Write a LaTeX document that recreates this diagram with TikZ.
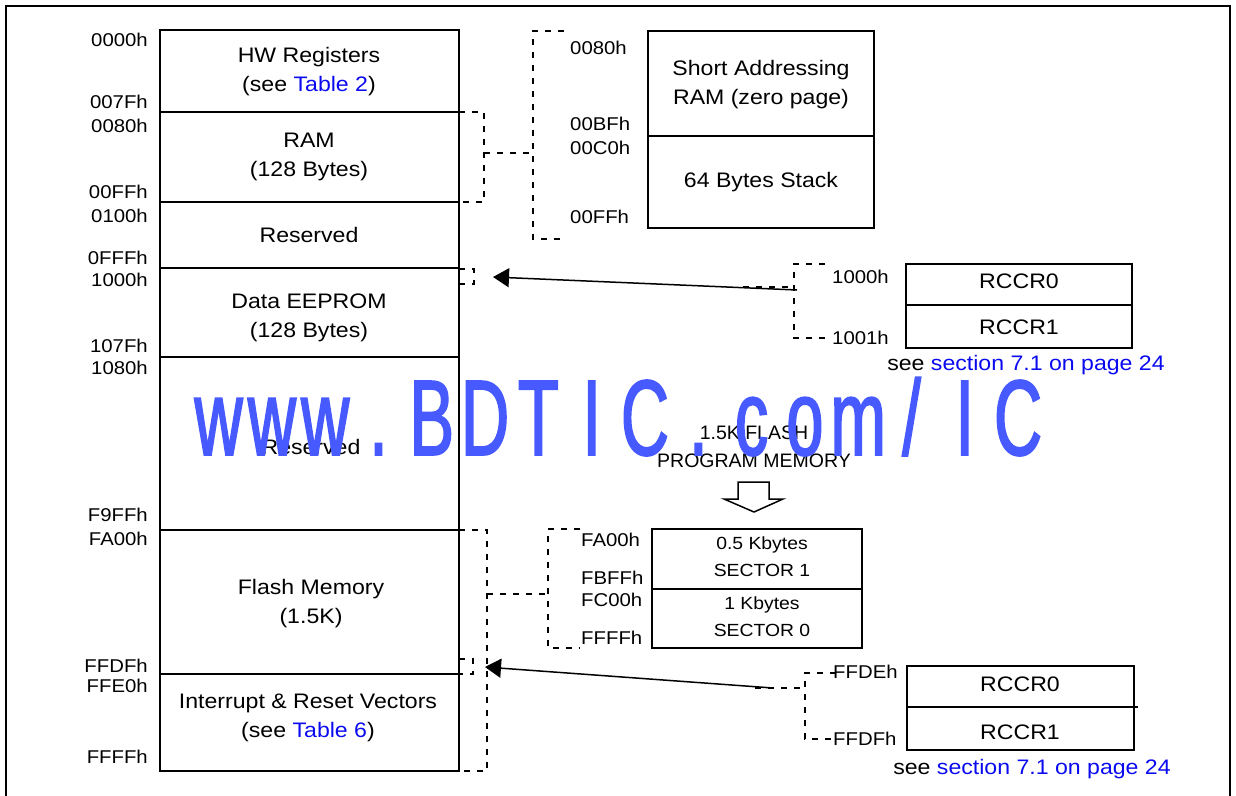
\documentclass[tikz,border=0pt]{standalone}
\usepackage{fontspec}
\setmainfont{Liberation Sans}[FakeStretch=1.1]
\newfontfamily\plainsans{Liberation Sans}
\newfontfamily\wmfont{Liberation Sans}[FakeStretch=0.62, FakeBold=1.5]
\usetikzlibrary{arrows.meta}
\definecolor{linkblue}{RGB}{10,10,240}
\definecolor{wmblue}{RGB}{70,90,255}
\begin{document}
\begin{tikzpicture}[x=1pt,y=-1pt,
  blk/.style={draw, line width=2pt, anchor=north west, inner sep=0pt, outer sep=0pt, minimum width=299pt},
  boxx/.style={draw, line width=2pt, anchor=north west, inner sep=0pt, outer sep=0pt},
  txt/.style={font=\fontsize{21}{29}\selectfont, align=center, inner sep=0pt},
  addr/.style={font=\fontsize{18.5}{22}\selectfont, inner sep=0pt},
  sect/.style={font=\fontsize{17.6}{27}\selectfont, align=center, inner sep=0pt},
  flashtxt/.style={font=\plainsans\fontsize{19.5}{28}\selectfont, align=center, inner sep=0pt},
  dsh/.style={line width=1.8pt, dash pattern=on 6pt off 7pt},
  arr/.style={line width=1.5pt, -{Triangle[length=16pt,width=19pt]}},
  wmchar/.style={anchor=base, inner sep=0pt, text=wmblue, font=\wmfont\fontsize{107.5}{107.5}\selectfont},
]
\useasboundingbox (0,0) rectangle (1236,795);
\clip (0,0) rectangle (1236,795);
\draw[line width=2.5pt] (6,800) -- (6,6) -- (1230,6) -- (1230,800);

% ---------- main memory column ----------
\node[blk, minimum height=82pt]  (hw)    at (160,30)  {};
\node[blk, minimum height=90pt]  (ram)   at (160,112) {};
\node[blk, minimum height=66pt]  (res1)  at (160,202) {};
\node[blk, minimum height=89pt]  (eep)   at (160,268) {};
\node[blk, minimum height=173pt] (res2)  at (160,357) {};
\node[blk, minimum height=144pt] (flash) at (160,530) {};
\node[blk, minimum height=97pt]  (vec)   at (160,674) {};

\node[txt] (thw)  at (309,71.5) {HW Registers\\(see \textcolor{linkblue}{Table 2})};
\node[txt] (tram) at (309,157) {RAM\\(128 Bytes)};
\node[txt] (tr1)  at (309,235) {Reserved};
\node[txt] (teep) at (309,318) {Data EEPROM\\(128 Bytes)};
\node[txt] (tr2)  at (311,447) {Reserved};
\node[txt] (tfl)  at (311,604) {Flash Memory\\(1.5K)};
\node[txt] (tvec) at (308,717.5) {Interrupt \& Reset Vectors\\(see \textcolor{linkblue}{Table 6})};

% address labels (left)
\foreach \n/\y/\t in {a1/40/0000h, a2/102/007Fh, a3/126/0080h, a4/192/00FFh, a5/216/0100h,
  a6/258/0FFFh, a7/280/1000h, a8/346/107Fh, a9/368/1080h, a10/515/F9FFh, a11/539/FA00h,
  a12/666/FFDFh, a13/686/FFE0h, a14/757/FFFFh}
  \node[addr, anchor=east] (\n) at (148,\y) {\t};

% ---------- zero page / stack ----------
\node[boxx, minimum width=226pt, minimum height=105pt] (sa) at (648,31) {};
\node[boxx, minimum width=226pt, minimum height=92pt]  (st) at (648,136) {};
\node[txt] (tsa) at (761,84.5) {Short Addressing\\RAM (zero page)};
\node[txt] (tst) at (761,182) {64 Bytes Stack};
\foreach \n/\y/\t in {b1/48/0080h, b2/124/00BFh, b3/148/00C0h, b4/217/00FFh}
  \node[addr, anchor=west] (\n) at (570,\y) {\t};

\coordinate (rb) at (484,153);
\coordinate (zb) at (533,153);
\draw[dsh] (ram.north east) -- (484,112) -- (484,202) -- (ram.south east);
\draw[dsh] (rb) -- (zb);
\draw[dsh] (564,31) -- (533,31) -- (533,239) -- (564,239);

% ---------- RCCR (data EEPROM) ----------
\node[boxx, minimum width=226pt, minimum height=41pt] (r0) at (906,264) {};
\node[boxx, minimum width=226pt, minimum height=43pt] (r1) at (906,305) {};
\node[txt] (tr0) at (1019,281) {RCCR0};
\node[txt] (tr1b) at (1019,327) {RCCR1};
\node[addr, anchor=west] (c1) at (832,277) {1000h};
\node[addr, anchor=west] (c2) at (832,338) {1001h};
\node[txt] (see1) at (1026,365) {see \textcolor{linkblue}{section 7.1 on page 24}};
\draw[dsh] (825,264) -- (794,264) -- (794,338) -- (825,338);
\coordinate (e1s) at (797,290);
\coordinate (e1m) at (743,287);
\coordinate (e1t) at (493,277);
\draw[dsh] (e1m) -- (794,287);
\draw[arr] (e1s) -- (e1t);
\draw[dsh] (eep.north east) ++(0,1) -- (474,269) -- (474,284) -- (459,284);

% ---------- flash sectors ----------
\node[flashtxt] (tfp) at (754,447) {1.5K FLASH\\PROGRAM MEMORY};
\draw[line width=1.5pt] (738,482) -- (769,482) -- (769,499) -- (783,499) -- (754,512)
  -- (724,499) -- (738,499) -- cycle;

\node[boxx, minimum width=210pt, minimum height=60pt] (s1) at (652,529) {};
\node[boxx, minimum width=210pt, minimum height=59pt] (s0) at (652,589) {};
\node[sect] (ts1) at (762,556.5) {0.5 Kbytes\\SECTOR 1};
\node[sect] (ts0) at (762,616.5) {1 Kbytes\\SECTOR 0};
\foreach \n/\y/\t in {d1/540/FA00h, d2/578/FBFFh, d3/600/FC00h, d4/638/FFFFh}
  \node[addr, anchor=west] (\n) at (581,\y) {\t};

\coordinate (fb) at (487,594);
\coordinate (sb) at (548,594);
\draw[dsh] (flash.north east) -- (487,530) -- (487,771) -- (vec.south east);
\draw[dsh] (fb) -- (sb);
\draw[dsh] (580,529) -- (548,529) -- (548,648) -- (580,648);

% ---------- RCCR (vectors) ----------
\node[boxx, minimum width=227pt, minimum height=41pt] (q0) at (907,666) {};
\node[boxx, minimum width=227pt, minimum height=43pt] (q1) at (907,707) {};
\draw[line width=2pt] (q1.north east) -- ++(4,0);
\node[txt] (tq0) at (1020,684) {RCCR0};
\node[txt] (tq1) at (1020,732) {RCCR1};
\node[addr, anchor=west] (f1) at (833,672) {FFDEh};
\node[addr, anchor=west] (f2) at (833,739) {FFDFh};
\node[txt] (see2) at (1032,769) {see \textcolor{linkblue}{section 7.1 on page 24}};
\draw[dsh] (836,673) -- (805,673) -- (805,739) -- (836,739);
\coordinate (v1s) at (773,688);
\coordinate (v1m) at (755,688);
\coordinate (v1t) at (485,667);
\draw[dsh] (v1m) -- (805,688);
\draw[arr] (v1s) -- (v1t);
\draw[dsh] (459,659) -- (473,659) -- (473,674) -- (flash.south east);

% ---------- watermark (fixed pitch) ----------
\foreach \c [count=\i from 0] in {w,w,w,.,B,D,T,I,C,.,c,o,m,/,I,C}
  \node[wmchar] (wm\i) at (218.6+53.3*\i,455) {\c};
\end{tikzpicture}
\end{document}
